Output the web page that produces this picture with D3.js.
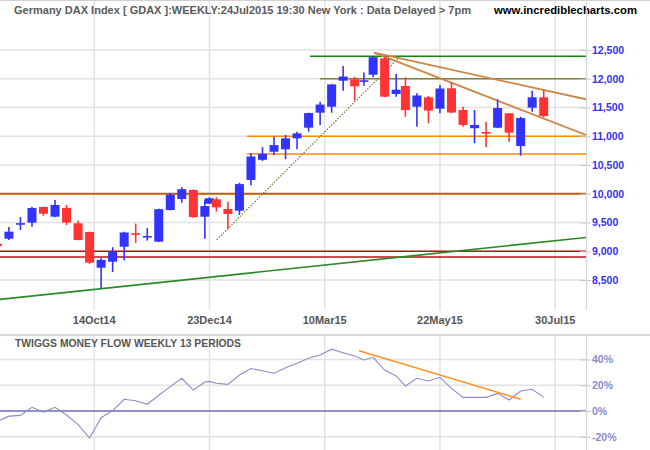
<!DOCTYPE html>
<html><head><meta charset="utf-8">
<script src="https://cdn.jsdelivr.net/npm/d3@7"></script>
<style>body{margin:0;background:#fff}svg{display:block}</style>
</head><body>
<svg id="c" width="650" height="450"></svg>
<script>
// ---- data ----
const dates = ["15Aug14","22Aug14","29Aug14","05Sep14","12Sep14","19Sep14","26Sep14","03Oct14","10Oct14","17Oct14",
  "24Oct14","31Oct14","07Nov14","14Nov14","21Nov14","28Nov14","05Dec14","12Dec14","19Dec14","23Dec14",
  "02Jan15","09Jan15","16Jan15","23Jan15","30Jan15","06Feb15","13Feb15","20Feb15","27Feb15","06Mar15",
  "13Mar15","20Mar15","27Mar15","02Apr15","10Apr15","17Apr15","24Apr15","30Apr15","08May15","15May15",
  "22May15","29May15","05Jun15","12Jun15","19Jun15","26Jun15","03Jul15","10Jul15","17Jul15","24Jul15"];
// trading days in each weekly bar
const tradingDays = [5,5,5,5,5,5,5,5,5,5, 5,5,5,5,5,5,5,5,5,2, 3,5,5,5,5,5,5,5,5,5, 5,5,5,4,4,5,5,4,5,5, 5,5,5,5,5,5,5,5,5,5];
const open  = [9130,9218,9465,9497,9770,9601,9752,9486,9335,8714, 8818,9079,9300,9240,9166,9717,9909,10065,9601,9827,
  9903,9735,9705,10240,10590,10731,10773,10964,11149,11410, 11514,11966,11990,11940,12070,12355,11735,11874,11514,11677,
  11480,11834,11457,11140,11060,11149,11399,10830,11497,11677];
const high  = [9250,9422,9596,9775,9775,9892,9805,9531,9340,8880, 9070,9340,9480,9405,9740,10010,10112,10075,9900,9940,
  9940,9860,10190,10705,10810,10990,11022,11080,11410,11600, 11910,12220,12030,12110,12390,12390,12083,12025,11750,11700,
  11890,11930,11514,11457,11253,11643,11405,11340,11792,11804];
const low   = [8950,9196,9370,9427,9618,9590,9457,9190,8780,8355, 8640,8840,9145,9185,9160,9710,9845,9580,9219,9820,
  9690,9382,9630,10150,10570,10674,10600,10773,11080,11196, 11410,11790,11618,11880,12025,11680,11688,11340,11166,11225,
  11400,11400,11166,10877,10808,11140,10905,10662,11427,11330];
const close = [9092,9340,9475,9752,9653,9805,9497,9196,8801,8850, 8988,9326,9291,9252,9732,9984,10080,9594,9786,9922,
  9764,9648,10168,10649,10694,10846,10963,11050,11404,11551, 11901,12039,11868,11960,12375,11688,11810,11454,11709,11447,
  11830,11413,11197,11197,11040,11491,11062,11317,11677,11352];
const moneyFlow = [-8,-4,-3.4,2.9,-0.8,2.9,-3.1,-10.6,-21,-5.2, 0.3,9.1,8,5.2,12.2,18.9,25.4,16.3,22.5,23, 21.5,20.7,28,33,31.3,29.3,33.6,37,41,43.5,
  48,45.3,42.7,39.6,41.7,31.8,27.2,19.4,25.4,23.3, 26.2,17.6,10.6,10.6,10.6,13.7,8.5,15.5,16.9,10.6];

const priceTicks = [8500,9000,9500,10000,10500,11000,11500,12000,12500];
const mfTicks = [-20,0,20,40];
const dateTickIndex = [42,92,142,192,242];
const dateTickLabels = ["14Oct14","23Dec14","10Mar15","22May15","30Jul15"];

// horizontal support/resistance lines: price level and starting trading-day index
const levelPrice = [12390,12000,11000,10690,10000,9000,8900];
const levelStart = [135.6,139.9,108.3,108.3,0,0,0];
// sloped trend lines (trading-day index, price)
const trendX1 = [0,95.1,163.4,163.4];
const trendP1 = [8160,9196,12453,12453];
const trendX2 = [255.35,175.4,255.35,255.35];
const trendP2 = [9239,12413,11643,11022];
// money-flow trend line
const mfTrendX = [156.9,227.0];
const mfTrendV = [46.8,9.1];

// ---- chart ----
const svg = d3.select("#c");
const FONT = "'Liberation Sans', Arial, sans-serif";
const AX = 586;

const tIndex = [];
tradingDays.reduce((acc, d, i) => { const v = i === 0 ? 0 : acc + d; tIndex.push(v); return v; }, 0);

const x = d3.scaleLinear().domain([0, 255.35]).range([-2.6, AX]);
const y = d3.scaleLinear().domain([8500, 12500]).range([280, 50]);
const ym = d3.scaleLinear().domain([-20, 40]).range([436.75, 359.5]);

const defs = svg.append("defs");
defs.append("clipPath").attr("id","cm").append("rect").attr("x",0).attr("y",0).attr("width",AX).attr("height",310);
defs.append("clipPath").attr("id","cl").append("rect").attr("x",0).attr("y",336).attr("width",AX).attr("height",114);

// grid main
const grid = svg.append("g");
grid.selectAll("line.h").data(priceTicks).join("line")
  .attr("x1",0).attr("x2",AX).attr("y1",d=>y(d)).attr("y2",d=>y(d))
  .attr("stroke","#e2e2e2").attr("stroke-width",1.4);
grid.selectAll("line.v").data(dateTickIndex).join("line")
  .attr("x1",d=>x(d)).attr("x2",d=>x(d)).attr("y1",0).attr("y2",310)
  .attr("stroke","#e2e2e2").attr("stroke-width",1.4);
svg.append("line").attr("x1",0).attr("x2",650).attr("y1",0.5).attr("y2",0.5).attr("stroke","#d0d0d0");

// header
svg.append("text").attr("x",14).attr("y",14).attr("font-family",FONT).attr("font-size",11).attr("font-weight","bold")
  .attr("fill","#5a5a5a").attr("textLength",457).attr("lengthAdjust","spacingAndGlyphs")
  .text("Germany DAX Index [ GDAX ]:WEEKLY:24Jul2015 19:30 New York : Data Delayed > 7pm");
svg.append("text").attr("x",494).attr("y",14).attr("font-family",FONT).attr("font-size",11).attr("font-weight","bold")
  .attr("fill","#000").attr("textLength",143).attr("lengthAdjust","spacingAndGlyphs")
  .text("www.incrediblecharts.com");

// lines in main
const main = svg.append("g").attr("clip-path","url(#cm)");
const levelColors = ["#118811","#7f7f40","#ff8800","#ff8800","#bf6000","#b81010","#b81010"];
const levelWidths = [1.5,1.5,1.5,1.5,1.8,1.3,1.3];
main.selectAll("line.lv").data(levelPrice).join("line")
  .attr("x1",(d,i)=>x(levelStart[i])).attr("x2",AX).attr("y1",d=>y(d)).attr("y2",d=>y(d))
  .attr("stroke",(d,i)=>levelColors[i]).attr("stroke-width",(d,i)=>levelWidths[i]);

const trendColors = ["#2a8a2a","#7a7a30","#cf8545","#cf8545"];
const trendWidths = [1.7,1.2,1.8,1.8];
const trendDash = [null,"1.5,1.5",null,null];
main.selectAll("line.tr").data(trendX1).join("line")
  .attr("x1",d=>x(d)).attr("y1",(d,i)=>y(trendP1[i]))
  .attr("x2",(d,i)=>x(trendX2[i])).attr("y2",(d,i)=>y(trendP2[i]))
  .attr("stroke",(d,i)=>trendColors[i]).attr("stroke-width",(d,i)=>trendWidths[i])
  .attr("stroke-dasharray",(d,i)=>trendDash[i]);

// candles
const UP = "#3333ff", DN = "#ff3333";
const cg = main.append("g");
const idx = d3.range(dates.length);
cg.selectAll("line.w").data(idx).join("line")
  .attr("x1",i=>x(tIndex[i])).attr("x2",i=>x(tIndex[i]))
  .attr("y1",i=>y(high[i])).attr("y2",i=>y(low[i]))
  .attr("stroke",i=>close[i]>=open[i]?UP:DN).attr("stroke-width",1.6);
cg.selectAll("rect.b").data(idx).join("rect")
  .attr("x",i=>x(tIndex[i])-4.5).attr("width",9)
  .attr("y",i=>Math.min(y(open[i]),y(close[i])) - (Math.abs(y(open[i])-y(close[i]))<1.6?0.8:0))
  .attr("height",i=>Math.max(1.6,Math.abs(y(open[i])-y(close[i]))))
  .attr("fill",i=>close[i]>=open[i]?UP:DN);

// right axis main
const ax = svg.append("g").attr("transform",`translate(${AX},0)`)
  .call(d3.axisRight(y).tickValues(priceTicks).tickFormat(d3.format(",")).tickSize(5).tickPadding(1));
ax.select(".domain").remove();
ax.selectAll(".tick line").attr("x1",-6).attr("stroke","#c8c8c8");
ax.selectAll(".tick text").attr("font-family",FONT).attr("font-size",10.5).attr("font-weight","bold").attr("fill","#3333ee");
svg.append("line").attr("x1",AX+0.5).attr("x2",AX+0.5).attr("y1",0).attr("y2",310).attr("stroke","#d4d4d4").attr("stroke-width",1.2);

// date labels
svg.selectAll("text.dl").data(dateTickIndex).join("text")
  .attr("x",d=>x(d)).attr("y",324).attr("text-anchor","middle")
  .attr("font-family",FONT).attr("font-size",11).attr("font-weight","bold").attr("fill","#555")
  .text((d,i)=>dateTickLabels[i]);

// separator
svg.append("line").attr("x1",0).attr("x2",650).attr("y1",335).attr("y2",335).attr("stroke","#d6d6d6").attr("stroke-width",2);

// lower panel grid
const lg = svg.append("g");
lg.selectAll("line.v").data(dateTickIndex).join("line")
  .attr("x1",d=>x(d)).attr("x2",d=>x(d)).attr("y1",336).attr("y2",450)
  .attr("stroke","#e2e2e2").attr("stroke-width",1.4);
lg.selectAll("line.h").data(mfTicks.filter(d=>d!==0)).join("line")
  .attr("x1",0).attr("x2",AX).attr("y1",d=>ym(d)).attr("y2",d=>ym(d))
  .attr("stroke","#e2e2e2").attr("stroke-width",1.4);
lg.append("line").attr("x1",0).attr("x2",AX).attr("y1",ym(0)).attr("y2",ym(0))
  .attr("stroke","#6c6cb4").attr("stroke-width",1.4);

svg.append("text").attr("x",15).attr("y",347).attr("font-family",FONT).attr("font-size",10).attr("font-weight","bold")
  .attr("fill","#555").attr("textLength",226).attr("lengthAdjust","spacingAndGlyphs")
  .text("TWIGGS MONEY FLOW WEEKLY 13 PERIODS");

const lower = svg.append("g").attr("clip-path","url(#cl)");
lower.append("path").datum(moneyFlow)
  .attr("d",d3.line().x((d,i)=>x(tIndex[i])).y(d=>ym(d)))
  .attr("fill","none").attr("stroke","#8c8cd0").attr("stroke-width",1.1);
lower.append("line").attr("x1",x(mfTrendX[0])).attr("y1",ym(mfTrendV[0]))
  .attr("x2",x(mfTrendX[1])).attr("y2",ym(mfTrendV[1]))
  .attr("stroke","#ff9020").attr("stroke-width",1.5);

const lax = svg.append("g").attr("transform",`translate(${AX},0)`)
  .call(d3.axisRight(ym).tickValues(mfTicks).tickFormat(d=>d+"%").tickSize(5).tickPadding(1));
lax.select(".domain").remove();
lax.selectAll(".tick line").attr("x1",-6).attr("stroke","#c8c8c8");
lax.selectAll(".tick text").attr("font-family",FONT).attr("font-size",10.5).attr("font-weight","bold").attr("fill","#8a8acc");
svg.append("line").attr("x1",AX+0.5).attr("x2",AX+0.5).attr("y1",336).attr("y2",450).attr("stroke","#d4d4d4").attr("stroke-width",1.2);
</script>
</body></html>
